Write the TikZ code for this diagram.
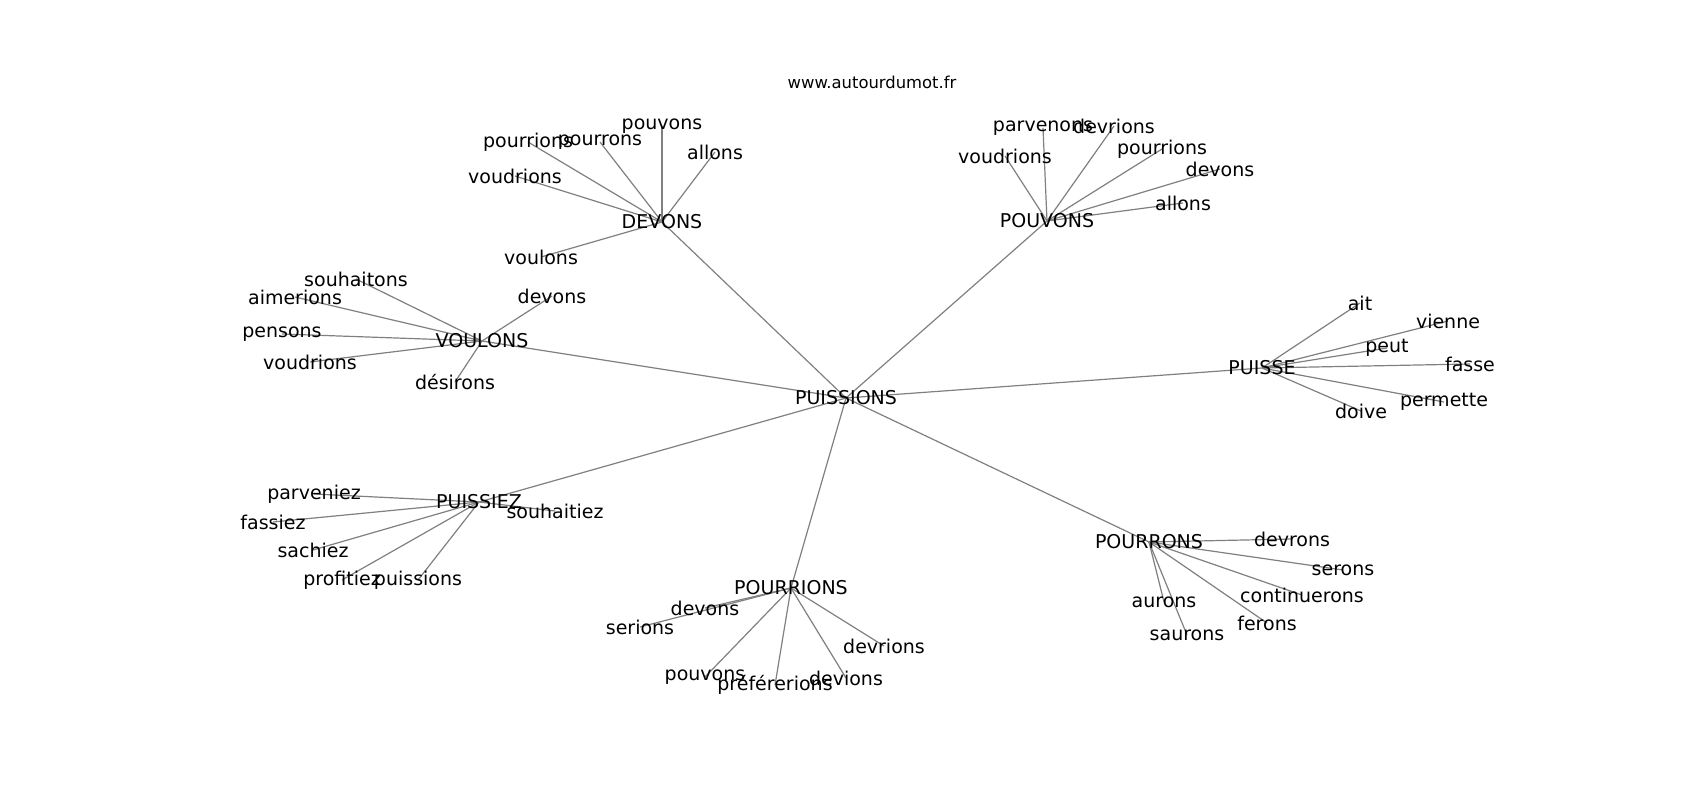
\documentclass[tikz,border=0pt]{standalone}
\usepackage{fontspec}
\setmainfont{DejaVu Sans}
\usetikzlibrary{backgrounds}
\begin{document}
\begin{tikzpicture}[x=1pt,y=-1pt,
  lbl/.style={font=\fontsize{19}{22}\selectfont, inner sep=0pt, text=black},
  ttl/.style={font=\fontsize{16.4}{19}\selectfont, inner sep=0pt, text=black},
  edge/.style={draw=black!50, line width=1.2pt}]
\useasboundingbox (0,0) rectangle (1700,800);
\node[ttl] (title) at (872,82) {www.autourdumot.fr};
% hubs
\node[lbl] (c) at (846,398) {PUISSIONS};
\node[lbl] (dv) at (662,222) {DEVONS};
\node[lbl] (pv) at (1047,221) {POUVONS};
\node[lbl] (vl) at (482,341) {VOULONS};
\node[lbl] (ps) at (1262,368) {PUISSE};
\node[lbl] (pz) at (479,502) {PUISSIEZ};
\node[lbl] (pi) at (791,588) {POURRIONS};
\node[lbl] (po) at (1149,542) {POURRONS};
% DEVONS leaves
\node[lbl] (dv1) at (528,142) {pourrions};
\node[lbl] (dv2) at (600,142) {pourrons};
\node[lbl] (dv3) at (662,126) {pouvons};
\node[lbl] (dv4) at (715,152) {allons};
\node[lbl] (dv5) at (515,176) {voudrions};
\node[lbl] (dv6) at (541,257) {voulons};
% POUVONS leaves
\node[lbl] (pv1) at (1043,128) {parvenons};
\node[lbl] (pv2) at (1114,126) {devrions};
\node[lbl] (pv3) at (1162,149) {pourrions};
\node[lbl] (pv4) at (1220,169) {devons};
\node[lbl] (pv5) at (1183,203) {allons};
\node[lbl] (pv6) at (1005,156) {voudrions};
% VOULONS leaves
\node[lbl] (vl1) at (356,279) {souhaitons};
\node[lbl] (vl2) at (295,297) {aimerions};
\node[lbl] (vl3) at (282,334) {pensons};
\node[lbl] (vl4) at (310,362) {voudrions};
\node[lbl] (vl5) at (455,382) {désirons};
\node[lbl] (vl6) at (552,296) {devons};
% PUISSE leaves
\node[lbl] (ps1) at (1360,303) {ait};
\node[lbl] (ps2) at (1448,321) {vienne};
\node[lbl] (ps3) at (1387,348) {peut};
\node[lbl] (ps4) at (1470,364) {fasse};
\node[lbl] (ps5) at (1444,402) {permette};
\node[lbl] (ps6) at (1361,411) {doive};
% PUISSIEZ leaves
\node[lbl] (pz1) at (314,494) {parveniez};
\node[lbl] (pz2) at (273,522) {fassiez};
\node[lbl] (pz3) at (313,550) {sachiez};
\node[lbl] (pz4) at (342,580) {profitiez};
\node[lbl] (pz5) at (418,580) {puissions};
\node[lbl] (pz6) at (555,511) {souhaitiez};
% POURRIONS leaves
\node[lbl] (pi1) at (705,608) {devons};
\node[lbl] (pi2) at (640,627) {serions};
\node[lbl] (pi3) at (705,677) {pouvons};
\node[lbl] (pi4) at (775,685) {préférerions};
\node[lbl] (pi5) at (846,678) {devions};
\node[lbl] (pi6) at (884,646) {devrions};
% POURRONS leaves
\node[lbl] (po1) at (1292,539) {devrons};
\node[lbl] (po2) at (1343,570) {serons};
\node[lbl] (po3) at (1302,595) {continuerons};
\node[lbl] (po4) at (1267,623) {ferons};
\node[lbl] (po5) at (1164,602) {aurons};
\node[lbl] (po6) at (1187,635) {saurons};
\begin{pgfonlayer}{background}
\fill[white] (0,0) rectangle (1700,800);
\foreach \h in {dv,pv,vl,ps,pz,pi,po}{
  \draw[edge] (c.center) -- (\h.center);
  \foreach \i in {1,...,6}{
    \draw[edge] (\h.center) -- (\h\i.center);
  }
}
\end{pgfonlayer}
\end{tikzpicture}
\end{document}
